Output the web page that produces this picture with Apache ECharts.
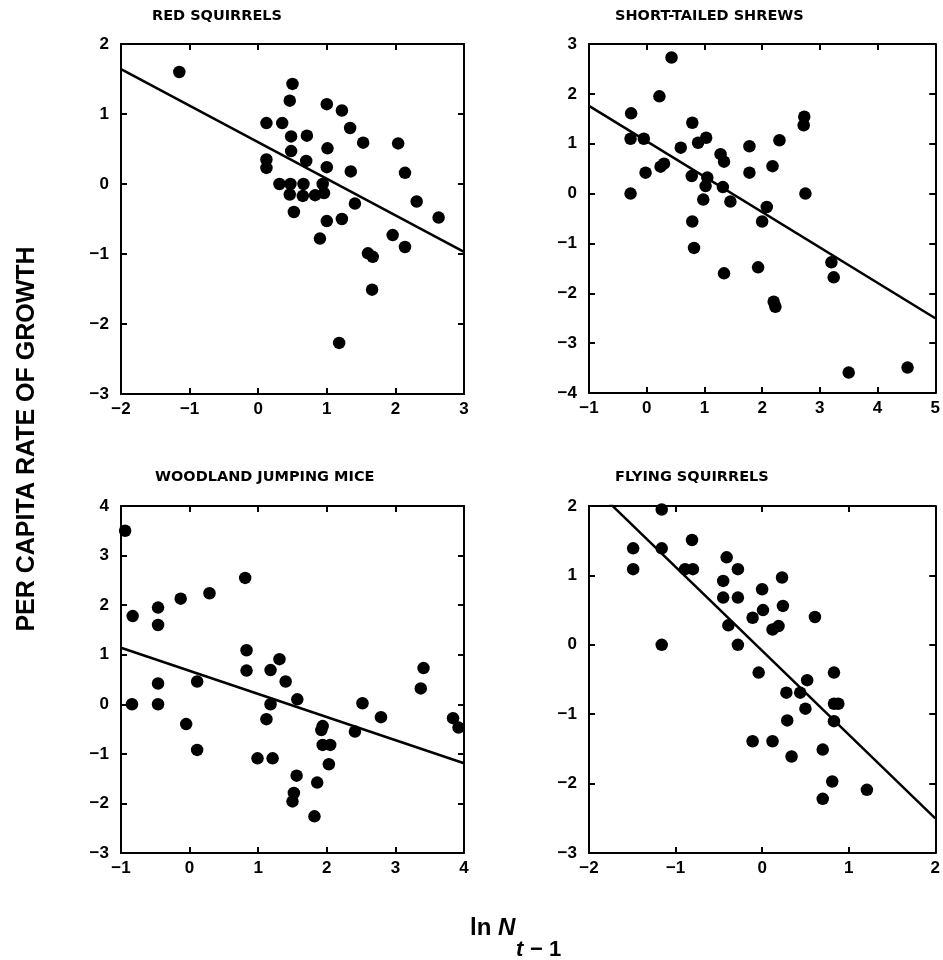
<!DOCTYPE html>
<html><head><meta charset="utf-8">
<script src="https://cdn.jsdelivr.net/npm/echarts@6/dist/echarts.min.js"></script>
<style>html,body{margin:0;padding:0;background:#fff}#c{width:943px;height:960px}</style>
</head><body><div id="c"></div>
<script>
// ---- Data ----
const panelTitles = ['RED SQUIRRELS', 'SHORT-TAILED SHREWS', 'WOODLAND JUMPING MICE', 'FLYING SQUIRRELS'];
const yAxisTitle = 'PER CAPITA RATE OF GROWTH';

const redSquirrels = [[-1.15,1.60],[0.50,1.43],[0.46,1.19],[1.00,1.14],[1.22,1.05],[0.12,0.87],[0.35,0.87],[1.34,0.80],[0.48,0.68],[0.71,0.69],[1.53,0.59],[2.04,0.58],[0.48,0.47],[1.01,0.51],[0.12,0.35],[0.12,0.23],[0.70,0.33],[1.00,0.24],[1.35,0.18],[2.14,0.16],[0.31,0.00],[0.47,0.00],[0.66,0.00],[0.94,0.00],[0.46,-0.15],[0.65,-0.17],[0.83,-0.16],[0.96,-0.13],[1.41,-0.28],[2.31,-0.25],[0.52,-0.40],[1.00,-0.53],[1.22,-0.50],[2.63,-0.48],[0.90,-0.78],[1.96,-0.73],[2.14,-0.90],[1.60,-0.99],[1.67,-1.04],[1.66,-1.51],[1.18,-2.27]];
const shrews = [[0.43,2.73],[0.22,1.95],[-0.27,1.61],[-0.28,1.10],[-0.05,1.10],[-0.28,0.00],[-0.02,0.42],[0.24,0.54],[0.30,0.60],[0.59,0.92],[0.79,1.42],[0.89,1.02],[1.03,1.12],[0.78,0.35],[1.05,0.32],[1.02,0.15],[0.98,-0.12],[0.79,-0.56],[0.82,-1.09],[1.28,0.79],[1.34,0.64],[1.32,0.13],[1.45,-0.16],[1.34,-1.60],[1.78,0.95],[1.78,0.42],[1.93,-1.48],[2.00,-0.56],[2.08,-0.27],[2.18,0.55],[2.30,1.07],[2.20,-2.17],[2.23,-2.27],[2.73,1.54],[2.72,1.37],[2.75,0.00],[3.20,-1.38],[3.24,-1.68],[3.50,-3.59],[4.52,-3.49]];
const jumpingMice = [[-0.94,3.50],[-0.83,1.78],[-0.84,0.00],[-0.46,1.95],[-0.46,1.60],[-0.46,0.42],[-0.46,0.00],[-0.13,2.13],[-0.05,-0.40],[0.11,0.46],[0.11,-0.92],[0.29,2.24],[0.81,2.55],[0.83,1.09],[0.83,0.68],[0.99,-1.09],[1.18,0.69],[1.31,0.91],[1.18,0.00],[1.12,-0.30],[1.21,-1.09],[1.40,0.46],[1.57,0.10],[1.56,-1.44],[1.52,-1.79],[1.50,-1.96],[1.94,-0.44],[1.92,-0.52],[1.94,-0.82],[2.05,-0.82],[2.03,-1.21],[1.86,-1.58],[1.82,-2.26],[2.41,-0.55],[2.52,0.02],[2.79,-0.26],[3.37,0.32],[3.41,0.73],[3.84,-0.28],[3.92,-0.47]];
const flyingSquirrels = [[-1.16,1.95],[-1.49,1.39],[-1.49,1.09],[-1.16,1.39],[-1.16,0.00],[-0.81,1.51],[-0.89,1.09],[-0.80,1.09],[-0.41,1.26],[-0.28,1.09],[-0.45,0.92],[-0.45,0.68],[-0.28,0.68],[-0.39,0.28],[-0.28,0.00],[0.00,0.80],[0.01,0.50],[-0.11,0.39],[0.23,0.97],[0.24,0.56],[0.12,0.22],[0.19,0.27],[0.61,0.40],[-0.04,-0.40],[0.28,-0.69],[0.44,-0.69],[0.52,-0.51],[0.50,-0.92],[0.29,-1.09],[-0.11,-1.39],[0.12,-1.39],[0.34,-1.61],[0.83,-0.40],[0.83,-0.85],[0.88,-0.85],[0.83,-1.10],[0.70,-1.51],[0.81,-1.97],[0.70,-2.22],[1.21,-2.09]];

const redLine = [[-2,1.64],[3,-0.97]];
const shrewLine = [[-1,1.76],[5,-2.50]];
const miceLine = [[-1,1.14],[4,-1.19]];
const flyingLine = [[-2,2.33],[2,-2.50]];

const xRanges = [[-2,3],[-1,5],[-1,4],[-2,2]];
const yRanges = [[-3,2],[-4,3],[-3,4],[-3,2]];

// ---- Layout ----
const grids = [
  {left:121, top:44, width:343, height:350},
  {left:589, top:44, width:347, height:349},
  {left:121, top:506, width:343, height:347},
  {left:589, top:506, width:347, height:347}
];
const titlePos = [[152,9],[615,9],[155,470],[615,470]];
const pointSets = [redSquirrels, shrews, jumpingMice, flyingSquirrels];
const lineSets = [redLine, shrewLine, miceLine, flyingLine];

const FONT = '"Liberation Sans", Arial, sans-serif';
const TFONT = '"DejaVu Sans", sans-serif';
const fmt = v => (v < 0 ? '\u2212' + Math.abs(v) : String(v));

function axisCommon(extra) {
  return Object.assign({
    type: 'value', interval: 1,
    axisLine: {show: true, onZero: false, lineStyle: {color: '#000', width: 2}},
    axisTick: {show: true, inside: true, length: 6, lineStyle: {color: '#000', width: 2}},
    splitLine: {show: false}
  }, extra);
}

const xAxes = [], yAxes = [], series = [], titles = [];
grids.forEach((g, i) => {
  const [xmin, xmax] = xRanges[i];
  const [ymin, ymax] = yRanges[i];
  xAxes.push(axisCommon({gridIndex: i, position: 'bottom', min: xmin, max: xmax,
    axisLabel: {show: true, color: '#000', fontFamily: FONT, fontWeight: 'bold', fontSize: 17, margin: 7, formatter: fmt}}));
  xAxes.push(axisCommon({gridIndex: i, position: 'top', min: xmin, max: xmax, axisLabel: {show: false}}));
  yAxes.push(axisCommon({gridIndex: i, position: 'left', min: ymin, max: ymax,
    axisLabel: {show: true, color: '#000', fontFamily: FONT, fontWeight: 'bold', fontSize: 17, margin: 12, formatter: fmt}}));
  yAxes.push(axisCommon({gridIndex: i, position: 'right', min: ymin, max: ymax, axisLabel: {show: false}}));
  series.push({
    type: 'line', xAxisIndex: 2*i, yAxisIndex: 2*i, data: lineSets[i], symbol: 'none', clip: true,
    lineStyle: {color: '#000', width: 2.5, opacity: 1}, silent: true, z: 2
  });
  series.push({
    type: 'scatter', xAxisIndex: 2*i, yAxisIndex: 2*i, data: pointSets[i], symbol: 'circle', symbolSize: 12.5,
    itemStyle: {color: '#000', opacity: 1}, z: 3
  });
  titles.push({text: panelTitles[i], left: titlePos[i][0], top: titlePos[i][1], padding: 0,
    textStyle: {fontFamily: TFONT, fontWeight: 'bold', fontSize: 14.5, color: '#000'}});
});

const chart = echarts.init(document.getElementById('c'), null, {renderer: 'canvas'});
chart.setOption({
  backgroundColor: '#fff',
  animation: false,
  title: titles,
  grid: grids,
  xAxis: xAxes,
  yAxis: yAxes,
  series: series,
  graphic: [
    {type: 'text', x: 27, y: 439, rotation: Math.PI/2,
      style: {text: yAxisTitle, fontFamily: FONT, fontWeight: 'bold', fontSize: 25, fill: '#000', align: 'center', verticalAlign: 'middle'}},
    {type: 'text', x: 470, y: 928,
      style: {rich: {a: {fontFamily: FONT, fontWeight: 'bold', fontSize: 24, fill: '#000'},
                     n: {fontFamily: FONT, fontWeight: 'bold', fontStyle: 'italic', fontSize: 24, fill: '#000'}},
              text: '{a|ln }{n|N}', verticalAlign: 'middle'}},
    {type: 'text', x: 516, y: 950,
      style: {text: 't', fontFamily: FONT, fontWeight: 'bold', fontStyle: 'italic', fontSize: 22, fill: '#000', verticalAlign: 'middle'}},
    {type: 'text', x: 530, y: 950,
      style: {text: '\u2212 1', fontFamily: FONT, fontWeight: 'bold', fontSize: 22, fill: '#000', verticalAlign: 'middle'}}
  ]
});
</script>
</body></html>
